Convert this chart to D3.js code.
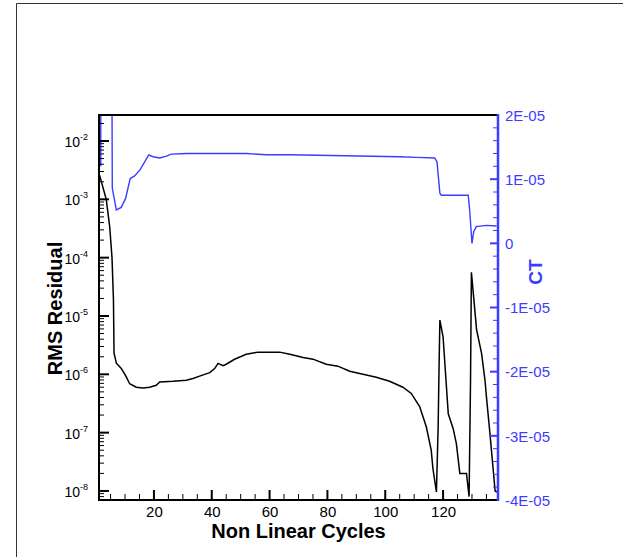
<!DOCTYPE html>
<html>
<head>
<meta charset="utf-8">
<script src="https://cdn.jsdelivr.net/npm/d3@7"></script>
<style>
  html, body { margin: 0; padding: 0; background: #fff; }
  svg { display: block; }
  text { font-family: "Liberation Sans", Arial, Helvetica, sans-serif; }
</style>
</head>
<body>
<script>
// ---------------- data ----------------
const residualCycles = [1.2, 3.5, 4.7, 5.5, 6.0, 6.2, 7.0, 8.7, 10.4, 11.6, 13.9, 16.2, 18.5, 20.8, 22.0, 26.6, 31.2, 33.5, 35.8, 39.3, 41.0, 42.2, 43.9, 45.0, 47.9, 51.9, 56.0, 60.0, 63.5, 67.0, 71.6, 75.0, 79.6, 83.6, 87.7, 92.3, 96.9, 101.5, 106.1, 109.0, 111.9, 114.2, 115.9, 116.5, 117.7, 118.3, 118.6, 118.9, 120.0, 121.8, 123.5, 124.6, 125.8, 128.1, 129.0, 129.5, 129.8, 131.6, 133.3, 134.5, 135.0, 136.2, 138.0, 138.6];
const residualValues = [2.6e-3, 1.0e-3, 3.4e-4, 1.0e-4, 1.9e-5, 2.3e-6, 1.55e-6, 1.26e-6, 9.1e-7, 6.9e-7, 6.0e-7, 5.8e-7, 6.0e-7, 6.5e-7, 7.4e-7, 7.6e-7, 7.9e-7, 8.5e-7, 9.3e-7, 1.07e-6, 1.26e-6, 1.54e-6, 1.41e-6, 1.49e-6, 1.81e-6, 2.2e-6, 2.4e-6, 2.4e-6, 2.4e-6, 2.2e-6, 1.95e-6, 1.82e-6, 1.49e-6, 1.38e-6, 1.13e-6, 1.0e-6, 8.9e-7, 7.6e-7, 6.0e-7, 4.7e-7, 2.8e-7, 1.26e-7, 5.0e-8, 2.4e-8, 9.6e-9, 1.26e-7, 1.2e-6, 8.5e-6, 4.4e-6, 2.1e-7, 1.17e-7, 6.5e-8, 2.0e-8, 2.0e-8, 8.0e-9, 7.9e-7, 5.6e-5, 5.8e-6, 2.3e-6, 7.9e-7, 4.1e-7, 9.8e-8, 1.0e-8, 9.6e-9];

const ctCycles = [1.6, 1.7, 5.2, 5.6, 7.0, 8.7, 10.2, 11.8, 13.3, 15.1, 16.8, 18.2, 19.7, 22.0, 24.3, 26.0, 31.2, 52.0, 58.9, 67.0, 105.0, 110.8, 117.1, 117.9, 118.9, 119.4, 128.7, 129.2, 130.0, 130.6, 131.5, 135.0, 138.5];
const ctValues = [1.2e-5, 6e-5, 6e-5, 8.6e-6, 5.2e-6, 5.6e-6, 7.0e-6, 1.01e-5, 1.05e-5, 1.14e-5, 1.27e-5, 1.38e-5, 1.35e-5, 1.33e-5, 1.36e-5, 1.39e-5, 1.40e-5, 1.40e-5, 1.38e-5, 1.38e-5, 1.35e-5, 1.34e-5, 1.33e-5, 1.27e-5, 7.8e-6, 7.5e-6, 7.5e-6, 5.2e-6, 0.0, 1.8e-6, 2.6e-6, 2.8e-6, 2.7e-6];

const xTickValues = [20, 40, 60, 80, 100, 120];
const leftExponents = [-8, -7, -6, -5, -4, -3, -2];
const rightTickValues = [-4e-5, -3e-5, -2e-5, -1e-5, 0, 1e-5, 2e-5];
const rightTickLabels = ["-4E-05", "-3E-05", "-2E-05", "-1E-05", "0", "1E-05", "2E-05"];
const xTitle = "Non Linear Cycles";
const leftTitle = "RMS Residual";
const rightTitle = "CT";

// ---------------- layout ----------------
const W = 623, H = 557;
const L = 99, R = 498, T = 115, B = 500;
const BLUE = "#3c3cff";

const svg = d3.select("body").append("svg").attr("width", W).attr("height", H);

// outer frame
svg.append("path").attr("d", `M16.5,${H} V3.5 H${W}`).attr("fill", "none").attr("stroke", "#333").attr("stroke-width", 1);

const x = d3.scaleLinear().domain([1, 139]).range([L, R]);
const yL = d3.scaleLog().domain([Math.pow(10, -8.155), Math.pow(10, -1.554)]).range([B, T]);
const yR = d3.scaleLinear().domain([-4e-5, 2e-5]).range([B, T]);

svg.append("defs").append("clipPath").attr("id", "plotclip").append("rect")
  .attr("x", L).attr("y", T).attr("width", R - L).attr("height", B - T);

// data lines
const resData = residualCycles.map((c, i) => [c, residualValues[i]]);
const ctData = ctCycles.map((c, i) => [c, ctValues[i]]);

const g = svg.append("g").attr("clip-path", "url(#plotclip)");
g.append("path").datum(ctData)
  .attr("d", d3.line().x(d => x(d[0])).y(d => yR(d[1])))
  .attr("fill", "none").attr("stroke", BLUE).attr("stroke-width", 1.4);
g.append("path").datum(resData)
  .attr("d", d3.line().x(d => x(d[0])).y(d => yL(d[1])))
  .attr("fill", "none").attr("stroke", "#000").attr("stroke-width", 1.5);

// ---------- tick marks (inward) ----------
const ticks = svg.append("g");
function drawTicks(vals, pos, len, orient, color, width) {
  ticks.selectAll(null).data(vals).enter().append("line")
    .attr("x1", d => orient === "b" ? pos(d) : (orient === "l" ? L : R))
    .attr("x2", d => orient === "b" ? pos(d) : (orient === "l" ? L + len : R - len))
    .attr("y1", d => orient === "b" ? B : pos(d))
    .attr("y2", d => orient === "b" ? B - len : pos(d))
    .attr("stroke", color).attr("stroke-width", width);
}
const xMinor = d3.range(5, 139, 5).filter(v => !xTickValues.includes(v));
drawTicks(xTickValues, x, 10, "b", "#000", 2);
drawTicks(xMinor, x, 6, "b", "#000", 1);

const leftMajor = leftExponents.map(e => Math.pow(10, e));
const leftMinor = [];
for (let e = -9; e <= -2; e++) for (let m = 2; m <= 9; m++) {
  const v = m * Math.pow(10, e);
  if (v >= yL.domain()[0] && v <= yL.domain()[1]) leftMinor.push(v);
}
drawTicks(leftMajor, yL, 10, "l", "#000", 2);
drawTicks(leftMinor, yL, 5, "l", "#000", 1);

const rightMinor = d3.range(-40, 21, 2).filter(v => v % 10 !== 0).map(v => v * 1e-6);
drawTicks(rightTickValues, yR, 8, "r", BLUE, 2);
drawTicks(rightMinor, yR, 5, "r", BLUE, 1);

// ---------- tick labels ----------
const gx = svg.append("g").attr("transform", `translate(0,${B})`)
  .call(d3.axisBottom(x).tickValues(xTickValues).tickSize(0).tickPadding(0).tickFormat(d3.format("d")));
gx.select(".domain").remove();
gx.selectAll(".tick line").remove();
gx.selectAll(".tick text").attr("y", 0).attr("dy", 17).attr("font-size", 15).attr("fill", "#000")
  .style("font-family", "'Liberation Sans', Arial, sans-serif");

const lbl = svg.append("g");
leftExponents.forEach(e => {
  const t = lbl.append("text")
    .attr("x", 88).attr("y", yL(Math.pow(10, e)) + 6)
    .attr("text-anchor", "end").attr("font-size", 14).attr("fill", "#000");
  t.append("tspan").text("10");
  t.append("tspan").attr("dy", -7).attr("font-size", 9).text(String(e));
});

const gr = svg.append("g").attr("transform", `translate(${R},0)`)
  .call(d3.axisRight(yR).tickValues(rightTickValues).tickSize(0).tickPadding(0)
    .tickFormat((d, i) => rightTickLabels[i]));
gr.select(".domain").remove();
gr.selectAll(".tick line").remove();
gr.selectAll(".tick text").attr("x", 7).attr("dy", "0.35em").attr("font-size", 15).attr("fill", BLUE)
  .attr("text-anchor", "start").style("font-family", "'Liberation Sans', Arial, sans-serif");

// frame lines of plot
svg.append("line").attr("x1", L - 1).attr("x2", R).attr("y1", T).attr("y2", T).attr("stroke", "#000").attr("stroke-width", 2);
svg.append("line").attr("x1", L - 1).attr("x2", R).attr("y1", B).attr("y2", B).attr("stroke", "#000").attr("stroke-width", 2);
svg.append("line").attr("x1", L).attr("x2", L).attr("y1", T - 1).attr("y2", B + 1).attr("stroke", "#000").attr("stroke-width", 2);
svg.append("line").attr("x1", R).attr("x2", R).attr("y1", T - 1).attr("y2", B + 1).attr("stroke", BLUE).attr("stroke-width", 2.5);

// titles
svg.append("text").attr("x", (L + R) / 2).attr("y", 538).attr("text-anchor", "middle")
  .attr("font-size", 20).attr("font-weight", "bold").attr("fill", "#000").text(xTitle);
svg.append("text").attr("transform", `translate(62,${(T + B) / 2 + 1}) rotate(-90)`).attr("text-anchor", "middle")
  .attr("font-size", 20).attr("font-weight", "bold").attr("fill", "#000").text(leftTitle);
svg.append("text").attr("transform", `translate(542,272) rotate(-90)`).attr("text-anchor", "middle")
  .attr("font-size", 19).attr("font-weight", "bold").attr("fill", BLUE).text(rightTitle);
</script>
</body>
</html>
